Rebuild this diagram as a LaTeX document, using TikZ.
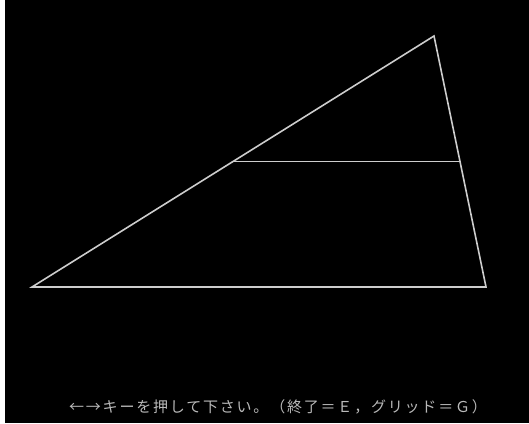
\documentclass[tikz,border=0pt]{standalone}
\usepackage{fontspec}
\newfontfamily\jpfont[LetterSpace=12]{Noto Sans CJK JP}
\definecolor{edgegray}{RGB}{205, 205, 205}
\definecolor{msggray}{RGB}{185, 185, 185}
\usetikzlibrary{positioning, calc}

\begin{document}
\begin{tikzpicture}[x=1pt, y=-1pt,
    edge/.style={draw=edgegray, line width=1.6pt},
    msg/.style={text=msggray, font=\jpfont\fontsize{15}{15}\selectfont, inner sep=0pt}]
  % screen
  \fill[white] (0,0) rectangle (529,423);
  \fill[black] (5,0) rectangle (529,423);
  \useasboundingbox (0,0) rectangle (529,423);
  % triangle corners
  \coordinate (left) at (32,287);
  \coordinate (right) at (486,287);
  \coordinate (apex) at (434,36);
  \coordinate (midL) at ($(left)!0.5!(apex)$);
  \coordinate (midR) at ($(right)!0.5!(apex)$);
  \draw[edge] (left) -- (right) -- (apex) -- cycle;
  \draw[edge] (midL) -- (midR);
  \node[msg] (hint) at (278,407) {←→キーを押して下さい。（終了＝Ｅ，グリッド＝Ｇ）};
\end{tikzpicture}
\end{document}
